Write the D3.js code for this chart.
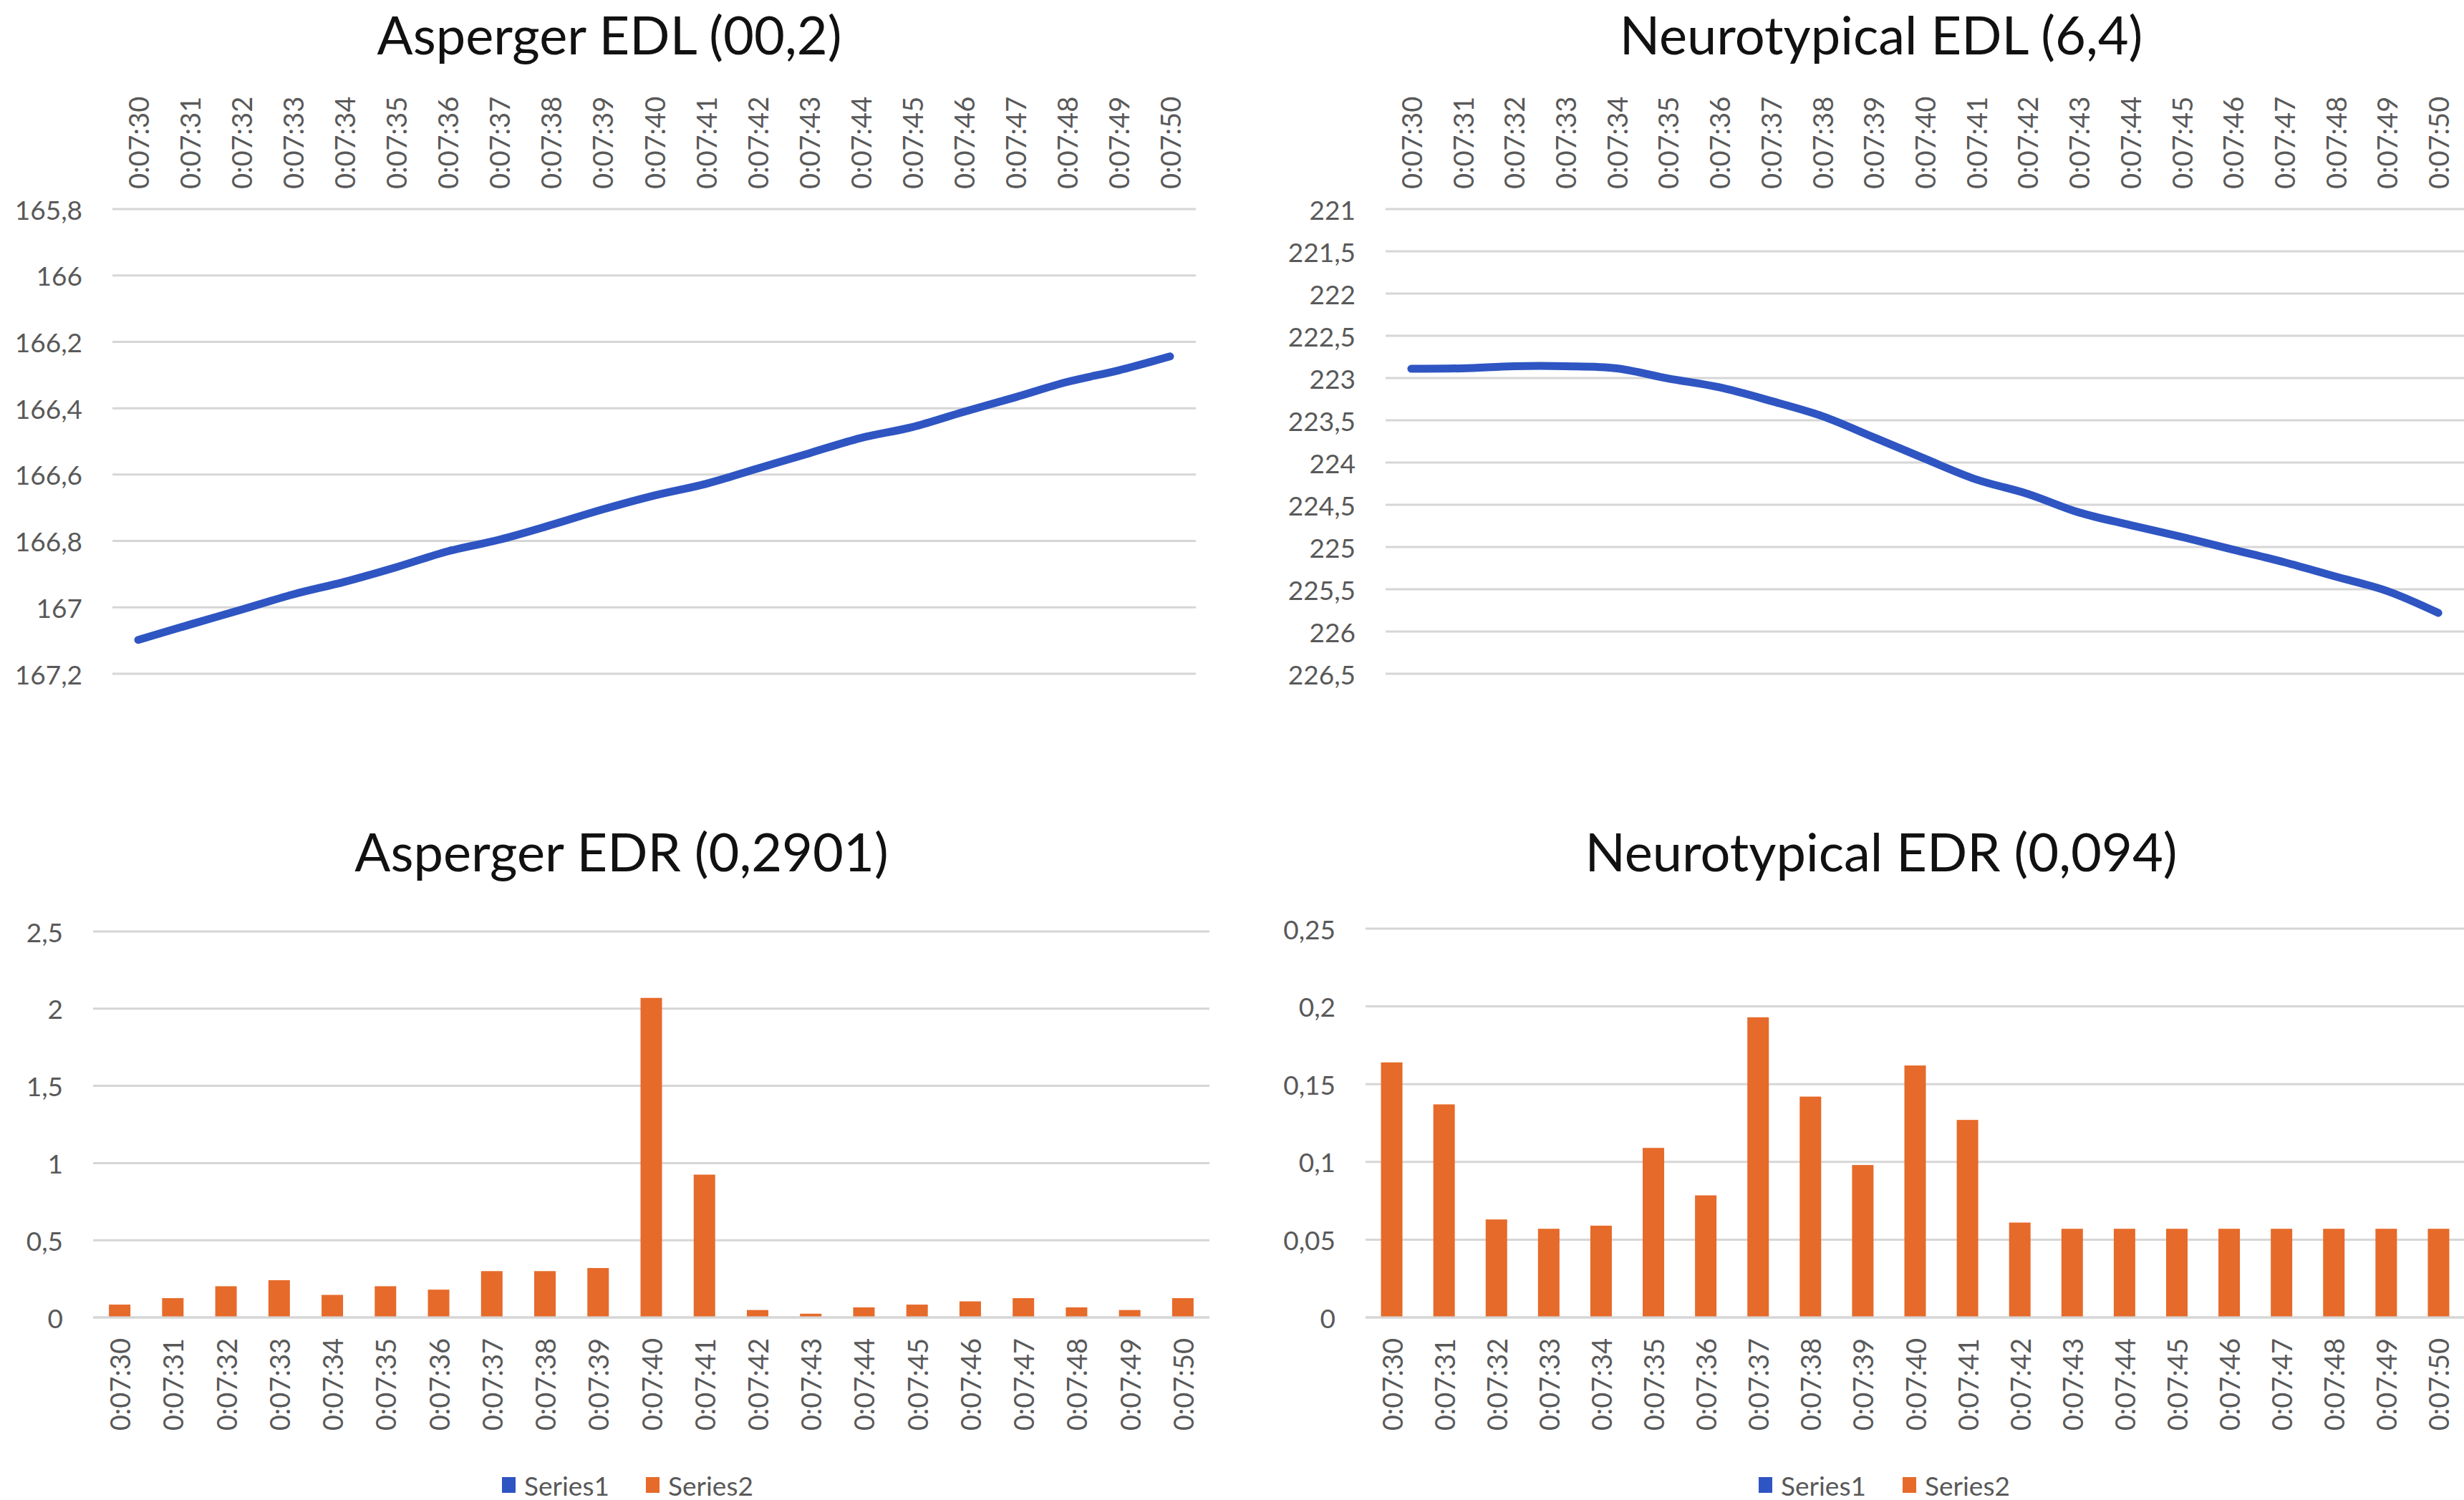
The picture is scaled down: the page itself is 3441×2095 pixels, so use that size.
<!DOCTYPE html>
<html>
<head>
<meta charset="utf-8">
<script src="https://cdn.jsdelivr.net/npm/d3@7"></script>
<style>
  html, body { margin: 0; padding: 0; background: #fff; }
  svg { display: block; }
  text { font-family: Lato, "Open Sans", sans-serif; }
</style>
</head>
<body>
<svg id="chart" width="3441" height="2095"></svg>
<script>
// ---------- DATA ----------
const times = ["0:07:30","0:07:31","0:07:32","0:07:33","0:07:34","0:07:35","0:07:36","0:07:37","0:07:38","0:07:39","0:07:40","0:07:41","0:07:42","0:07:43","0:07:44","0:07:45","0:07:46","0:07:47","0:07:48","0:07:49","0:07:50"];

const aspergerEDL = [167.098, 167.052, 167.007, 166.961, 166.923, 166.879, 166.831, 166.796, 166.752, 166.705, 166.663, 166.628, 166.582, 166.536, 166.490, 166.457, 166.411, 166.367, 166.321, 166.286, 166.244];
const neuroEDL = [222.89, 222.885, 222.86, 222.86, 222.885, 223.005, 223.11, 223.27, 223.45, 223.70, 223.955, 224.20, 224.37, 224.59, 224.74, 224.88, 225.03, 225.18, 225.35, 225.52, 225.78];
const aspergerEDR = [0.083, 0.125, 0.202, 0.241, 0.146, 0.202, 0.180, 0.300, 0.300, 0.320, 2.070, 0.925, 0.048, 0.024, 0.065, 0.083, 0.104, 0.125, 0.065, 0.048, 0.125];
const neuroEDR = [0.164, 0.137, 0.063, 0.057, 0.059, 0.109, 0.0785, 0.193, 0.142, 0.098, 0.162, 0.127, 0.061, 0.057, 0.057, 0.057, 0.057, 0.057, 0.057, 0.057, 0.057];

const aspergerEDLTicks = [165.8, 166, 166.2, 166.4, 166.6, 166.8, 167, 167.2];
const neuroEDLTicks = [221, 221.5, 222, 222.5, 223, 223.5, 224, 224.5, 225, 225.5, 226, 226.5];
const aspergerEDRTicks = [0, 0.5, 1, 1.5, 2, 2.5];
const neuroEDRTicks = [0, 0.05, 0.1, 0.15, 0.2, 0.25];

const titles = ["Asperger EDL (00,2)", "Neurotypical EDL (6,4)", "Asperger EDR (0,2901)", "Neurotypical EDR (0,094)"];
const legendLabels = ["Series1", "Series2"];

// ---------- STYLE ----------
const BLUE = "#2f55c2";
const ORANGE = "#e66a2a";
const GRID = "#d6d6d6";
const TICK = "#595959";

const svg = d3.select("#chart");
svg.append("rect").attr("width", 3441).attr("height", 2095).attr("fill", "#fff");

const fmt = v => String(+v.toFixed(3)).replace(".", ",");

function drawPanel(cfg) {
  const g = svg.append("g");
  const x = d3.scalePoint().domain(times).range([cfg.x0, cfg.x1]).padding(0.5);
  const y = d3.scaleLinear().domain(cfg.domain).range(cfg.yRange);

  // title
  g.append("text")
    .attr("x", cfg.titleX).attr("y", cfg.titleY)
    .attr("text-anchor", "middle")
    .attr("font-size", 74).attr("fill", "#111")
    .text(cfg.title);

  // gridlines
  g.append("g").selectAll("line").data(cfg.ticks).join("line")
    .attr("x1", cfg.x0).attr("x2", cfg.x1)
    .attr("y1", d => y(d)).attr("y2", d => y(d))
    .attr("stroke", GRID).attr("stroke-width", 3);

  // y tick labels
  g.append("g").selectAll("text").data(cfg.ticks).join("text")
    .attr("x", cfg.x0 - 42).attr("y", d => y(d))
    .attr("text-anchor", "end").attr("dominant-baseline", "central")
    .attr("font-size", 37).attr("fill", TICK)
    .text(fmt);

  // x labels (rotated)
  g.append("g").selectAll("text").data(times).join("text")
    .attr("transform", d => `translate(${x(d)},${cfg.xLabelY}) rotate(-90)`)
    .attr("text-anchor", cfg.xAnchor).attr("dominant-baseline", "central")
    .attr("font-size", 38).attr("fill", TICK)
    .text(d => d);

  if (cfg.type === "line") {
    const line = d3.line()
      .x((d, i) => x(times[i]))
      .y(d => y(d))
      .curve(d3.curveCatmullRom.alpha(0.5));
    g.append("path").datum(cfg.values)
      .attr("d", line)
      .attr("fill", "none").attr("stroke", BLUE)
      .attr("stroke-width", 11).attr("stroke-linecap", "round").attr("stroke-linejoin", "round");
  } else {
    const bw = 30;
    g.append("g").selectAll("rect").data(cfg.values).join("rect")
      .attr("x", (d, i) => x(times[i]) - bw / 2)
      .attr("width", bw)
      .attr("y", d => y(d))
      .attr("height", d => y(0) - y(d))
      .attr("fill", ORANGE);
    g.append("line")
      .attr("x1", cfg.x0).attr("x2", cfg.x1)
      .attr("y1", y(0)).attr("y2", y(0))
      .attr("stroke", GRID).attr("stroke-width", 3);

    // legend
    const lg = g.append("g");
    const colors = [BLUE, ORANGE];
    legendLabels.forEach((lab, i) => {
      const lx = cfg.legendX[i];
      lg.append("rect").attr("x", lx).attr("y", cfg.legendY - 11)
        .attr("width", 19).attr("height", 22).attr("fill", colors[i]);
      lg.append("text").attr("x", lx + 31).attr("y", cfg.legendY)
        .attr("dominant-baseline", "central")
        .attr("font-size", 37).attr("fill", TICK).text(lab);
    });
  }
}

drawPanel({
  type: "line", title: titles[0], titleX: 851, titleY: 76,
  x0: 157, x1: 1670, domain: [165.8, 167.2], yRange: [292, 941],
  ticks: aspergerEDLTicks, values: aspergerEDL,
  xLabelY: 264, xAnchor: "start"
});
drawPanel({
  type: "line", title: titles[1], titleX: 2627, titleY: 76,
  x0: 1935, x1: 3441, domain: [221, 226.5], yRange: [292, 941],
  ticks: neuroEDLTicks, values: neuroEDL,
  xLabelY: 264, xAnchor: "start"
});
drawPanel({
  type: "bar", title: titles[2], titleX: 868, titleY: 1217,
  x0: 130, x1: 1689, domain: [0, 2.5], yRange: [1840, 1301],
  ticks: aspergerEDRTicks, values: aspergerEDR,
  xLabelY: 1869, xAnchor: "end",
  legendX: [701, 902], legendY: 2074
});
drawPanel({
  type: "bar", title: titles[3], titleX: 2627, titleY: 1217,
  x0: 1907, x1: 3442, domain: [0, 0.25], yRange: [1840, 1297],
  ticks: neuroEDRTicks, values: neuroEDR,
  xLabelY: 1869, xAnchor: "end",
  legendX: [2456, 2657], legendY: 2074
});
</script>
</body>
</html>
